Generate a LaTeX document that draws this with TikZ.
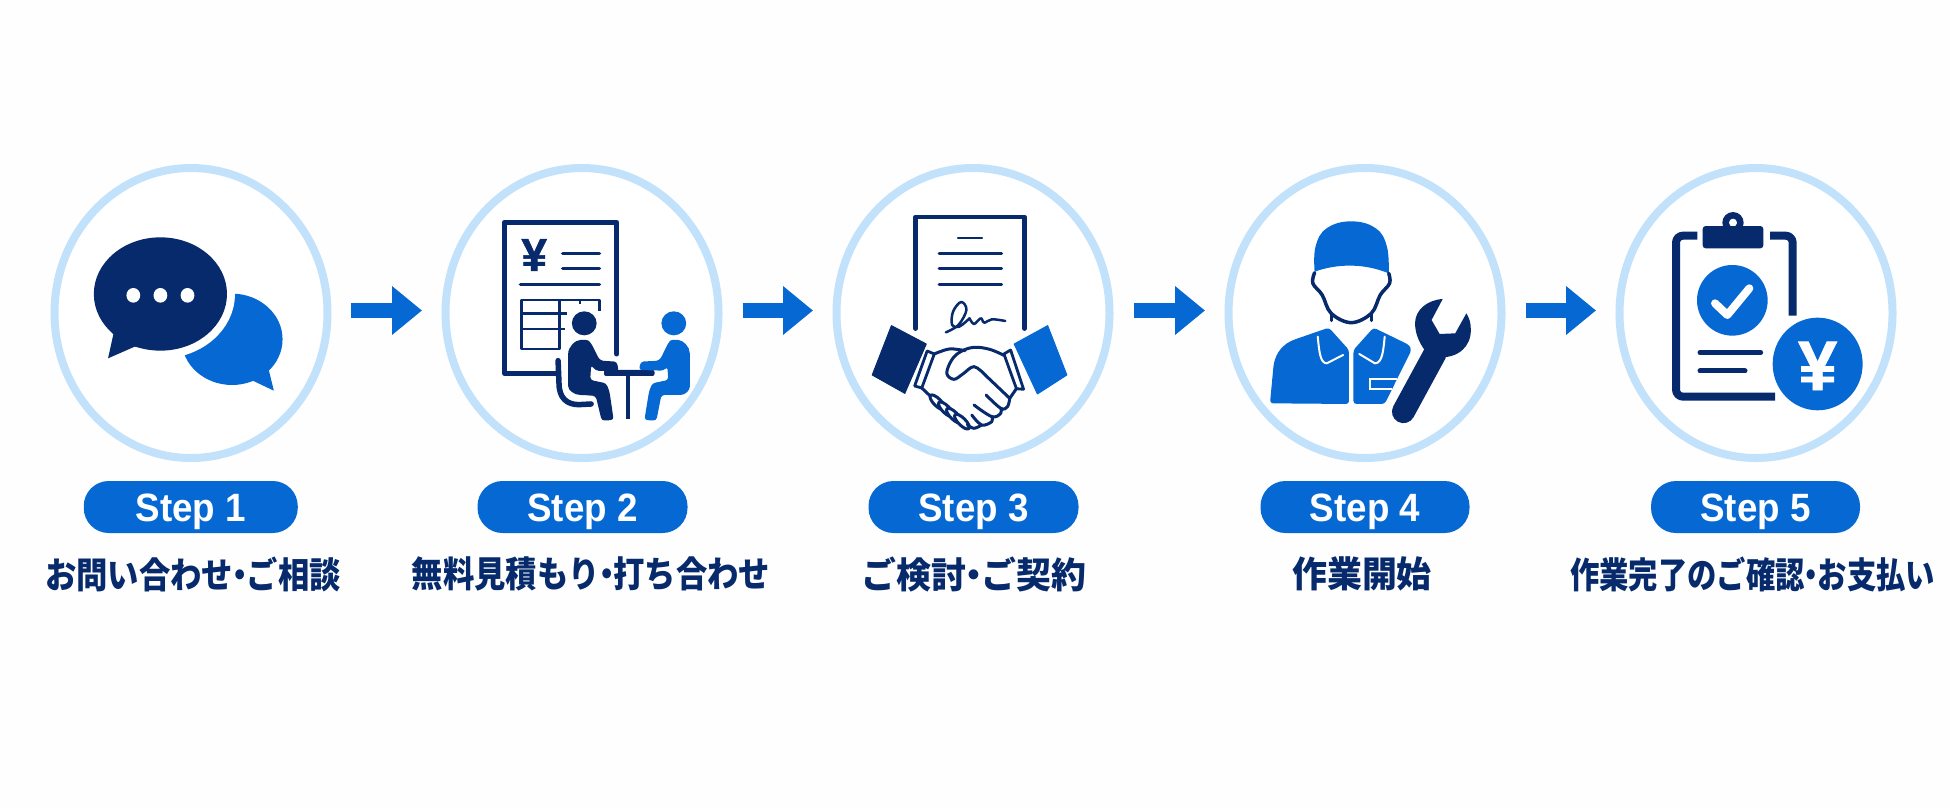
\documentclass[tikz,border=0pt]{standalone}
\usepackage{fontspec}
\setmainfont{Liberation Sans}
\newfontfamily\jpf{Noto Sans CJK JP}
\newfontfamily\yenf[FakeBold=1.2]{Liberation Sans Bold}
\usetikzlibrary{shapes.geometric,arrows.meta}
\definecolor{ring}{HTML}{C2E1FB}
\definecolor{navy}{HTML}{062A6B}
\definecolor{blu}{HTML}{0669D3}
\definecolor{bgc}{HTML}{FEFEFE}
\newcommand{\nk}{\kern-.28em ・\kern-.28em }
\newcommand{\stp}[1]{\raisebox{-14.5pt}[0pt][0pt]{\scalebox{.93}[1]{#1}}}
\tikzset{
  ringnode/.style={ellipse,draw=ring,fill=white,line width=8pt,minimum width=273pt,minimum height=290pt,inner sep=0pt},
  pill/.style={rectangle,rounded corners=25pt,fill=blu,text=white,inner sep=0pt,minimum width=#1,minimum height=52pt,font=\bfseries\fontsize{39.5}{42}\selectfont},
  lab/.style={text=navy,inner sep=0pt,font=\jpf\bfseries\fontsize{36}{40}\selectfont},
  conn/.style={draw=blu,line width=15.7pt,-{Triangle[length=30pt,width=47pt]}},
  zone/.style={shift={(30,150)},x=0.4592pt,y=-0.3333pt},
  ztwo/.style={shift={(820,150)},x=0.4464pt,y=-0.3333pt},
  zthree/.style={shift={(1590,150)},x=0.3333pt,y=-0.3333pt},
  nl/.style={draw=navy,line cap=round,line join=round},
  yen/.style={inner sep=0pt,font=\yenf\fontsize{#1}{#1}\selectfont},
}
\begin{document}
\begin{tikzpicture}[x=1pt,y=-1pt]
\useasboundingbox[fill=bgc] (0,0) rectangle (1950,807);
% rings
\node[ringnode] (s1) at (191,313) {};
\node[ringnode] (s2) at (582,313) {};
\node[ringnode] (s3) at (973,313) {};
\node[ringnode] (s4) at (1365,313) {};
\node[ringnode] (s5) at (1756,313) {};
% connectors
\draw[conn,shorten <=19pt,shorten >=19.5pt] ([yshift=2.5pt]s1.east) -- ([yshift=2.5pt]s2.west);
\draw[conn,shorten <=20pt,shorten >=19.5pt] ([yshift=2.5pt]s2.east) -- ([yshift=2.5pt]s3.west);
\draw[conn,shorten <=20pt,shorten >=19.5pt] ([yshift=2.5pt]s3.east) -- ([yshift=2.5pt]s4.west);
\draw[conn,shorten <=20pt,shorten >=19.5pt] ([yshift=2.5pt]s4.east) -- ([yshift=2.5pt]s5.west);
% pills
\node[pill=214pt] (p1) at (190.75,507) {\stp{Step 1}};
\node[pill=210pt] (p2) at (582.5,507) {\stp{Step 2}};
\node[pill=210pt] (p3) at (973.5,507) {\stp{Step 3}};
\node[pill=209pt] (p4) at (1365,507) {\stp{Step 4}};
\node[pill=209pt] (p5) at (1755.5,507) {\stp{Step 5}};
% labels
\node[lab] (t1) at (193,574) {\scalebox{.87}[1]{お問い合わせ\nk ご相談}};
\node[lab] (t2) at (591,574) {\scalebox{.87}[1]{無料見積もり\nk 打ち合わせ}};
\node[lab] (t3) at (974,574) {\scalebox{.97}[1]{ご検討\nk ご契約}};
\node[lab] (t4) at (1362,574) {\scalebox{.97}[1]{作業開始}};
\node[lab] (t5) at (1752.5,574) {\scalebox{.815}[1]{作業完了のご確認\nk お支払い}};
% ---- icon 1
\begin{scope}[zone]
\fill[blu] (440,568) ellipse [x radius=110,y radius=137];
\fill[blu,line join=round] (500,640) -- (520,660) -- (531,722) -- (485,692) -- (450,690) -- cycle;
\draw[white,line width=16pt] (284,432) ellipse [x radius=145,y radius=170];
\fill[navy] (284,432) ellipse [x radius=145,y radius=170];
\fill[navy] (190,530) -- (182,550) -- (170,625) -- (228,590) -- (270,600) -- cycle;
\foreach \i/\xx in {a/225,b/284,c/343}{\fill[white] (\xx,436) ellipse [x radius=15,y radius=22];}
\end{scope}
% ---- icon 2
\begin{scope}[zone]
\draw[nl,line width=5pt] (1278,612) -- (1278,217) -- (1033,217) -- (1033,670) -- (1150,670);
\node[yen=46,text=navy] (y2) at (1098,315) {¥};
\draw[nl,line width=3.5pt] (1160,311) -- (1240,311) (1160,356) -- (1240,356) (1068,403) -- (1240,403);
\draw[nl,line width=2.5pt,line cap=butt] (1070,450) rectangle (1153,597);
\draw[nl,line width=2.5pt,line cap=butt] (1153,450) -- (1240,450) -- (1240,482) (1198,450) -- (1198,462) (1070,490) -- (1170,490) (1070,537) -- (1165,537);
\fill[white] (1207,520) ellipse [x radius=38,y radius=48];
\fill[white,rounded corners=4pt] (1150,640) -- (1205,552) -- (1255,625) -- (1285,625) -- (1295,680) -- (1240,680) -- (1160,720) -- cycle;
\draw[nl,line width=5.5pt] (1150,632) -- (1152,700) .. controls (1152,745) and (1170,764) .. (1195,764) -- (1222,762);
\fill[navy] (1207,520) ellipse [x radius=27,y radius=36];
\fill[navy,rounded corners=3pt] (1172,620) .. controls (1172,590) and (1188,570) .. (1205,570) .. controls (1222,570) and (1230,605) .. (1242,632) -- (1278,635) -- (1282,665) -- (1232,662) -- (1222,645) -- (1220,690) -- (1255,700) -- (1262,725) -- (1271,810) -- (1245,812) -- (1232,738) -- (1205,735) .. controls (1185,735) and (1172,720) .. (1172,700) -- cycle;
\fill[navy,rounded corners=2pt] (1250,660) rectangle (1360,678);
\draw[nl,line width=4pt,line cap=butt] (1303,670) -- (1303,808);
\fill[blu] (1402,520) ellipse [x radius=27,y radius=36];
\fill[blu,rounded corners=3pt] (1437,620) .. controls (1437,590) and (1422,570) .. (1405,570) .. controls (1390,570) and (1382,605) .. (1370,632) -- (1330,635) -- (1326,660) -- (1380,662) -- (1388,650) -- (1390,690) -- (1355,700) -- (1348,725) -- (1338,810) -- (1364,812) -- (1375,735) -- (1410,735) .. controls (1428,735) and (1437,720) .. (1437,700) -- cycle;
\end{scope}
% ---- icon 3
\begin{scope}[ztwo]
\draw[nl,line width=4.5pt] (214,536) -- (214,201) -- (458,201) -- (458,536);
\draw[nl,line width=2pt] (309,265) -- (363,265);
\draw[nl,line width=3pt] (267,310) -- (407,310) (267,356) -- (407,356) (267,403) -- (407,403);
\draw[nl,line width=2.5pt] plot[smooth,tension=.6] coordinates {(282,547) (310,525) (328,480) (316,456) (298,485) (296,525) (312,530) (335,505)};
\draw[nl,line width=2.5pt] plot[smooth,tension=.6] coordinates {(335,505) (345,522) (360,505) (368,518) (385,508) (415,513)};
\fill[navy,line join=round,draw=navy,line width=1pt] (160,527) -- (238,582) -- (190,730) -- (117,675) -- cycle;
\fill[blu,line join=round,draw=blu,line width=1pt] (510,527) -- (435,582) -- (487,732) -- (553,675) -- cycle;
\draw[nl,line width=2.8pt] (240,603) -- (212,708) (256,612) -- (228,714) (240,603) -- (256,612) (212,708) -- (228,714);
\draw[nl,line width=2.8pt] (427,600) -- (456,718) (412,612) -- (440,716) (427,600) -- (412,612) (456,718) -- (440,716);
\draw[nl,line width=3pt] plot[smooth,tension=.6] coordinates {(256,612) (290,597) (325,602)};
\draw[nl,line width=3pt] plot[smooth,tension=.6] coordinates {(412,616) (380,598) (345,592) (315,605) (295,630) (284,670) (300,688) (320,672) (345,650) (370,675)};
\draw[nl,line width=3pt] (370,675) -- (425,745) (228,714) -- (250,742) (440,716) -- (425,745);
\draw[nl,line width=3pt] plot[smooth,tension=.6] coordinates {(372,735) (405,775) (420,770) (425,745)};
\draw[nl,line width=3pt] plot[smooth,tension=.6] coordinates {(345,765) (385,800) (405,790) (405,775)};
\draw[nl,line width=3pt] plot[smooth,tension=.6] coordinates {(340,795) (362,825) (385,815) (385,800)};
\foreach \i/\xx/\yy in {a/263/757,b/282/778,c/300/797,d/318/815}{
  \draw[nl,line width=3pt,fill=white,rotate around={-45:(\xx,\yy)}] (\xx,\yy) ellipse [x radius=22,y radius=11];}
\draw[nl,line width=3pt] plot[smooth,tension=.6] coordinates {(330,825) (345,835) (362,825)};
\end{scope}
% ---- icon 4
\begin{scope}[ztwo]
\fill[blu] plot[smooth,tension=.7] coordinates {(1108,365) (1110,290) (1135,235) (1190,214) (1245,235) (1270,290) (1274,370)} .. controls (1220,340) and (1160,340) .. (1108,365) -- cycle;
\draw[nl,line width=3.5pt] plot[smooth,tension=.6] coordinates {(1108,368) (1104,400) (1125,435) (1145,490) (1190,518) (1235,490) (1255,435) (1276,400) (1274,370)};
\draw[nl,line width=3pt] (1145,490) -- (1145,512) (1235,490) -- (1235,512);
\fill[blu,rounded corners=3pt] (1140,533) -- (1060,570) .. controls (1030,590) and (1018,620) .. (1015,660) -- (1008,760) -- (1185,762) -- (1185,600) -- cycle;
\fill[blu,rounded corners=3pt] (1240,533) -- (1195,600) -- (1195,762) -- (1265,762) -- (1325,600) -- (1320,585) -- cycle;
\draw[white,line width=2pt,line cap=round,line join=round] (1115,560) .. controls (1118,600) and (1120,640) .. (1135,640) -- (1172,615);
\draw[white,line width=2pt,line cap=round,line join=round] (1265,560) .. controls (1262,600) and (1260,640) .. (1243,640) -- (1208,612);
\draw[white,line width=2.2pt] (1292,688) -- (1232,688) -- (1232,718) -- (1282,718);
\draw[nl,line width=23pt] (1307,785) -- (1378,610);
\fill[navy,line join=round] (1395,447) .. controls (1360,450) and (1333,480) .. (1333,520) .. controls (1333,555) and (1345,585) .. (1360,610) -- (1385,622) .. controls (1430,625) and (1458,590) .. (1458,540) .. controls (1458,520) and (1455,505) .. (1448,490) -- (1423,550) -- (1388,552) -- (1370,510) -- cycle;
\end{scope}
% ---- icon 5
\begin{scope}[zthree]
\draw[nl,line width=8pt,line cap=butt,rounded corners=7pt] (322,257) -- (258,257) -- (258,740) -- (555,740);
\draw[nl,line width=8pt,line cap=butt,rounded corners=7pt] (540,257) -- (608,257) -- (608,497);
\fill[navy] (429,218) circle [radius=32];
\fill[white] (429,218) circle [radius=12];
\fill[navy,rounded corners=3pt] (338,228) rectangle (520,295);
\fill[blu] (427,451) circle [radius=106];
\draw[white,line width=8pt,line cap=round,line join=round] (375,460) -- (412,495) -- (478,415);
\draw[nl,line width=5pt] (330,608) -- (512,608) (330,663) -- (465,663);
\draw[white,line width=8pt] (683,642) ellipse [x radius=135,y radius=139];
\fill[blu] (683,642) ellipse [x radius=135,y radius=139];
\node[yen=70,text=white] (y5) at (683,648) {¥};
\end{scope}
\end{tikzpicture}
\end{document}
